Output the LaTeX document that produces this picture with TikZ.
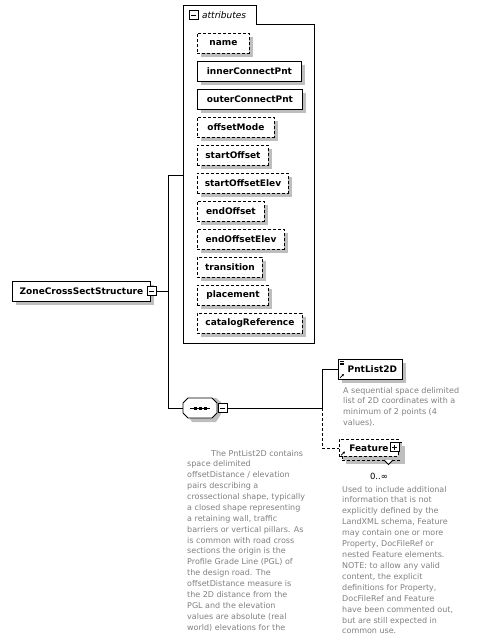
\documentclass[tikz,border=0pt]{standalone}
\usepackage{fontspec}
\setmainfont{DejaVu Sans}
\usetikzlibrary{shadows,calc,arrows.meta}
\definecolor{shgray}{RGB}{190,190,190}
\definecolor{descgray}{RGB}{128,128,128}
\tikzset{
  conn/.style={line width=0.9pt},
  elem/.style={draw=black, line width=0.9pt, fill=white, font=\fontsize{9}{10}\selectfont\bfseries,
    minimum height=20pt, inner sep=0pt, anchor=north west,
    drop shadow={shadow xshift=4pt, shadow yshift=-4pt, fill=shgray, opacity=1}},
  optelem/.style={elem, dash pattern=on 3pt off 2pt},
  iconbox/.style={draw=black, fill=white, line width=0.8pt, minimum size=9pt, inner sep=0pt},
  minusicon/.style={iconbox, path picture={\draw[line width=0.8pt] ([xshift=2pt]path picture bounding box.west) -- ([xshift=-2pt]path picture bounding box.east);}},
  plusicon/.style={iconbox, path picture={\draw[line width=0.8pt] ([xshift=2pt]path picture bounding box.west) -- ([xshift=-2pt]path picture bounding box.east);
     \draw[line width=0.8pt] ([yshift=-2pt]path picture bounding box.north) -- ([yshift=2pt]path picture bounding box.south);}},
  desc/.style={anchor=base west, inner sep=0pt, text=descgray},
}
\begin{document}
\begin{tikzpicture}[x=1pt,y=-1pt]
\useasboundingbox (0,0) rectangle (486,637);

% attributes container
\draw[line width=0.9pt] (183,5) -- (256,5) -- (256,24) -- (314,24) -- (314,343) -- (183,343) -- cycle;
\node[minusicon] (attricon) at (193.5,15) {};
\node[anchor=west, inner sep=0pt, font=\fontsize{9}{10}\selectfont\itshape] (attrlabel) at (202,15) {attributes};
\coordinate (attrW) at (183,175);

% attribute boxes
\node[optelem, minimum width=52pt] (a1) at (197,33) {name};
\node[elem, minimum width=104pt] (a2) at (197,61) {innerConnectPnt};
\node[elem, minimum width=105pt] (a3) at (197,89) {outerConnectPnt};
\node[optelem, minimum width=77pt] (a4) at (197,117) {offsetMode};
\node[optelem, minimum width=71pt] (a5) at (197,145) {startOffset};
\node[optelem, minimum width=91pt] (a6) at (197,173) {startOffsetElev};
\node[optelem, minimum width=67pt] (a7) at (197,201) {endOffset};
\node[optelem, minimum width=87pt] (a8) at (197,229) {endOffsetElev};
\node[optelem, minimum width=65pt] (a9) at (197,257) {transition};
\node[optelem, minimum width=71pt] (a10) at (197,285) {placement};
\node[optelem, minimum width=105pt] (a11) at (197,313) {catalogReference};

% main element
\node[elem, minimum width=138pt] (main) at (12,281) {ZoneCrossSectStructure\hspace{4pt}};
\node[minusicon] (mainicon) at (151.5,291) {};

% bus
\coordinate (b1) at (168,175);
\coordinate (bm) at (168,291);
\coordinate (b2) at (168,408);
\coordinate (seqW) at (183,408);
\draw[conn] (mainicon.east) -- (bm);
\draw[conn] (b1) -- (b2);
\draw[conn] (b1) -- (attrW);
\draw[conn] (b2) -- (seqW);

% sequence compositor
\fill[shgray] (187,408) -- (187,402) -- (192,398) -- (216,398) -- (221,402) -- (221,414) -- (216,422) -- (192,422) -- (187,414) -- cycle;
\draw[line width=0.9pt, fill=white] (183,403) -- (188,398) -- (212,398) -- (217,403) -- (217,413) -- (212,418) -- (188,418) -- (183,413) -- cycle;
\draw[line width=0.9pt] (190,408) -- (210,408);
\fill (193.5,406.5) rectangle +(3,3);
\fill (198.5,406.5) rectangle +(3,3);
\fill (203.5,406.5) rectangle +(3,3);
\node[minusicon] (seqicon) at (222.5,408) {};
\coordinate (c) at (322,408);
\draw[conn] (seqicon.east) -- (c);

% PntList2D
\node[elem, minimum width=64pt] (pnt) at (338,359) {\hspace{4pt}PntList2D};
\draw[line width=0.6pt] ($(pnt.north west)+(2,2.5)$) -- +(4,0);
\draw[line width=0.6pt] ($(pnt.north west)+(2,4)$) -- +(4,0);
\draw[line width=0.6pt] ($(pnt.north west)+(2,5.5)$) -- +(4,0);
\draw[line width=0.7pt, -{Latex[length=2.2pt,width=2.5pt]}] ($(pnt.south west)+(2,-2)$) -- +(4,-4);

% Feature
\node[optelem, minimum width=59pt, minimum height=18pt] (featback) at (342,442) {};
\node[optelem, minimum width=59pt, minimum height=17pt, drop shadow={opacity=0}] (feat) at (339,439) {Feature\hspace{8pt}};
\node[plusicon] (featicon) at (394.5,447) {};
\draw[line width=0.7pt, -{Latex[length=2.2pt,width=2.5pt]}] ($(feat.south west)+(2,-1.5)$) -- +(4,-4);
\draw[line width=0.8pt, fill=white] (384,460) -- (388.5,464.5) -- (393,460);
\node[font=\fontsize{8.5}{9}\selectfont, inner sep=0pt] (occ) at (379,476) {0..∞};

% choice connectors
\draw[conn] (c) |- (pnt.west);
\draw[conn, dash pattern=on 3pt off 2pt] (c) |- (feat.west);

% descriptions
\node[desc] (pntdesc) at (343,393) {\parbox[t]{140pt}{\fontsize{8}{10.8}\selectfont\raggedright
A sequential space delimited\\
list of 2D coordinates with a\\
minimum of 2 points (4\\
values).}};

\node[desc] (featdesc) at (342,492) {\parbox[t]{140pt}{\fontsize{8}{10.92}\selectfont\raggedright
Used to include additional\\
information that is not\\
explicitly defined by the\\
LandXML schema, Feature\\
may contain one or more\\
Property, DocFileRef or\\
nested Feature elements.\\
NOTE: to allow any valid\\
content, the explicit\\
definitions for Property,\\
DocFileRef and Feature\\
have been commented out,\\
but are still expected in\\
common use.}};

\node[desc] (seqdesc) at (187,456) {\parbox[t]{160pt}{\fontsize{8}{10.875}\selectfont\raggedright
\hspace*{24pt}The PntList2D contains\\
space delimited\\
offsetDistance / elevation\\
pairs describing a\\
crossectional shape, typically\\
a closed shape representing\\
a retaining wall, traffic\\
barriers or vertical pillars. As\\
is common with road cross\\
sections the origin is the\\
Profile Grade Line (PGL) of\\
the design road. The\\
offsetDistance measure is\\
the 2D distance from the\\
PGL and the elevation\\
values are absolute (real\\
world) elevations for the}};
\end{tikzpicture}
\end{document}
